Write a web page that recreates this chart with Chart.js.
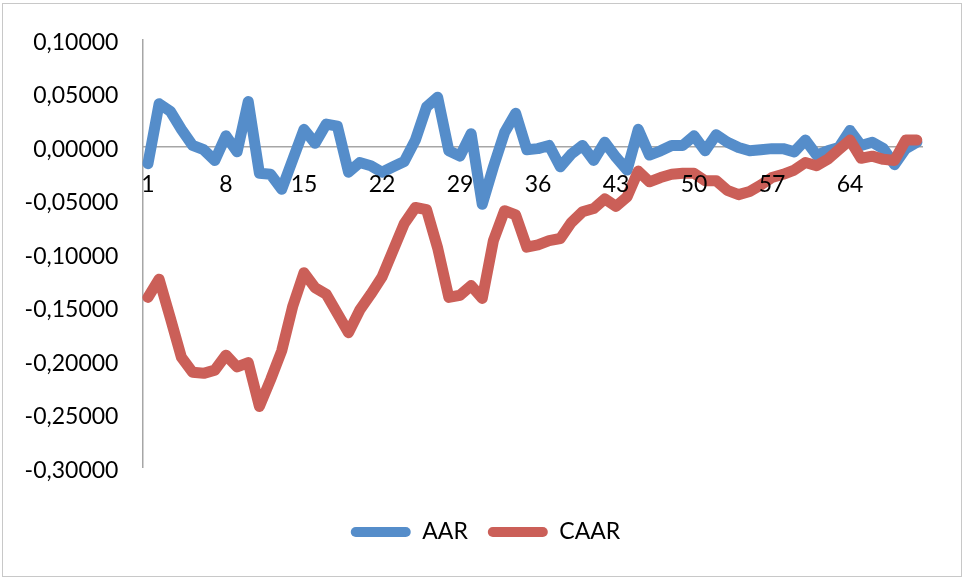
<!DOCTYPE html>
<html>
<head>
<meta charset="utf-8">
<script src="https://cdn.jsdelivr.net/npm/chart.js@4.4.1/dist/chart.umd.min.js"></script>
<style>
  html, body { margin: 0; padding: 0; background: #fff; }
  #wrap { position: relative; width: 964px; height: 579px; }
  #chart { display: block; }
  #frame { position: absolute; left: 2px; top: 3px; width: 958px; height: 572px; border: 1px solid #c8c8c8; pointer-events: none; }
</style>
</head>
<body>
<div id="wrap">
  <canvas id="chart" width="964" height="579"></canvas>
  <div id="frame"></div>
</div>
<script>
// event days
const days = [1, 2, 3, 4, 5, 6, 7, 8, 9, 10, 11, 12, 13, 14, 15, 16, 17, 18, 19, 20,
  21, 22, 23, 24, 25, 26, 27, 28, 29, 30, 31, 32, 33, 34, 35, 36, 37, 38, 39, 40,
  41, 42, 43, 44, 45, 46, 47, 48, 49, 50, 51, 52, 53, 54, 55, 56, 57, 58, 59, 60,
  61, 62, 63, 64, 65, 66, 67, 68, 69, 70]

const aar = [-0.016, 0.040, 0.033, 0.016, 0.001, -0.003, -0.013, 0.010, -0.005, 0.042,
  -0.025, -0.026, -0.040, -0.012, 0.016, 0.003, 0.021, 0.019, -0.024, -0.015,
  -0.018, -0.024, -0.019, -0.014, 0.006, 0.037, 0.046, -0.004, -0.009, 0.012,
  -0.054, -0.019, 0.013, 0.031, -0.003, -0.002, 0.001, -0.019, -0.007, 0.001,
  -0.013, 0.004, -0.010, -0.022, 0.016, -0.008, -0.004, 0.001, 0.001, 0.010,
  -0.004, 0.011, 0.004, -0.001, -0.004, -0.003, -0.002, -0.002, -0.005, 0.006,
  -0.008, -0.004, -0.001, 0.015, 0.001, 0.004, -0.002, -0.017, -0.002, 0.004]

const caar = [-0.141, -0.124, -0.160, -0.197, -0.211, -0.212, -0.209, -0.195, -0.206, -0.202,
  -0.243, -0.218, -0.191, -0.149, -0.118, -0.132, -0.138, -0.156, -0.174, -0.153,
  -0.138, -0.122, -0.097, -0.072, -0.057, -0.059, -0.095, -0.141, -0.139, -0.130,
  -0.142, -0.088, -0.060, -0.064, -0.094, -0.092, -0.088, -0.086, -0.071, -0.061,
  -0.058, -0.049, -0.056, -0.047, -0.023, -0.033, -0.029, -0.026, -0.025, -0.025,
  -0.032, -0.032, -0.041, -0.045, -0.042, -0.036, -0.029, -0.026, -0.022, -0.015,
  -0.018, -0.012, -0.003, 0.006, -0.011, -0.009, -0.012, -0.013, 0.006, 0.006]

const yTicks = [0.1, 0.05, 0, -0.05, -0.1, -0.15, -0.2, -0.25, -0.3]

const blue = '#558dca'
const red = '#cb5f58'
const axisGray = '#a6a6a6'

Chart.defaults.font.family = 'Lato, "Open Sans", sans-serif'
Chart.defaults.font.size = 23
Chart.defaults.color = '#000'

function fmt(v) {
  return v.toFixed(5).replace('.', ',')
}

const ctx = document.getElementById('chart').getContext('2d')
new Chart(ctx, {
  type: 'line',
  data: {
    labels: days,
    datasets: [{
      label: 'AAR',
      data: aar,
      borderColor: blue,
      backgroundColor: blue,
      borderWidth: 11,
      pointRadius: 0,
      tension: 0,
      borderJoinStyle: 'round',
      borderCapStyle: 'round',
      order: 1
    }, {
      label: 'CAAR',
      data: caar,
      borderColor: red,
      backgroundColor: red,
      borderWidth: 11,
      pointRadius: 0,
      tension: 0,
      borderJoinStyle: 'round',
      borderCapStyle: 'round',
      order: 0
    }]
  },
  options: {
    responsive: false,
    animation: false,
    layout: { padding: { left: 7, right: 0, top: 39.5, bottom: 25.5 } },
    plugins: {
      tooltip: { enabled: false },
      legend: {
        position: 'bottom',
        title: { display: true, text: '', font: { size: 10 }, padding: { top: 21, bottom: 0 } },
        labels: {
          boxWidth: 60,
          boxHeight: 10,
          padding: 20,
          useBorderRadius: true,
          borderRadius: 5,
          sort: (a, b) => a.datasetIndex - b.datasetIndex,
          generateLabels: chart => Chart.defaults.plugins.legend.labels.generateLabels(chart)
            .map(item => ({ ...item, fillStyle: item.strokeStyle, lineWidth: 0, borderRadius: 5 }))
        }
      }
    },
    scales: {
      x: {
        type: 'category',
        position: { y: 0 },
        offset: true,
        grid: { display: false, drawTicks: false },
        border: { color: axisGray, width: 1.5, z: 0 },
        ticks: {
          z: 1, // labels over the lines, zero line under them
          autoSkip: false,
          maxRotation: 0,
          padding: 24,
          callback: function(value, index) {
            return index % 7 === 0 ? this.getLabelForValue(value) : ''
          }
        }
      },
      y: {
        min: -0.3,
        max: 0.1,
        afterBuildTicks: scale => { scale.ticks = yTicks.map(v => ({ value: v })) },
        afterFit: scale => { scale.width = 135.4 },
        grid: { display: false, drawTicks: false },
        border: { color: axisGray, width: 1.5 },
        ticks: {
          padding: 24,
          labelOffset: 3,
          callback: value => fmt(value)
        }
      },
      // empty right margin so the plot ends where the reference does
      yRight: {
        type: 'linear',
        position: 'right',
        afterFit: scale => { scale.width = 41.6 },
        grid: { display: false, drawTicks: false },
        border: { display: false },
        ticks: { display: false }
      }
    }
  }
})
</script>
</body>
</html>
